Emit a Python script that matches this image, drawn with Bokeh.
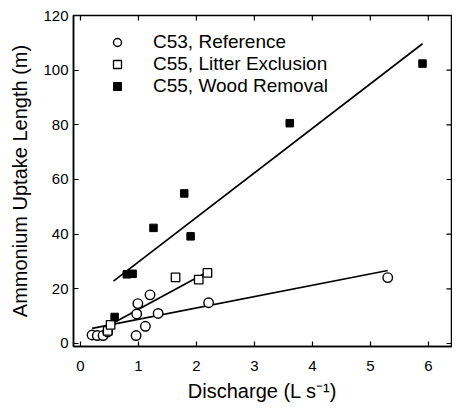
from bokeh.plotting import figure
from bokeh.models import Legend, LegendItem, FixedTicker, Range1d
from bokeh.embed import file_html
from bokeh.resources import INLINE
import numpy as np

# Data
ref_x = [0.20, 0.29, 0.39, 0.47, 0.96, 0.97, 0.99, 1.12, 1.20, 1.34, 2.21, 5.30]
ref_y = [3.1, 2.9, 2.9, 4.2, 2.9, 10.8, 14.6, 6.3, 17.8, 11.0, 14.9, 24.1]
lit_x = [0.47, 0.52, 1.64, 2.04, 2.19]
lit_y = [4.6, 6.8, 24.2, 23.4, 25.8]
wood_x = [0.59, 0.80, 0.90, 1.26, 1.79, 1.90, 3.61, 5.90]
wood_y = [9.7, 25.3, 25.5, 42.3, 54.9, 39.2, 80.6, 102.4]

# regression fits (slope, intercept)
ref_fit = (4.15, 4.7)
lit_fit = (11.5, 1.0)
wood_fit = (16.3, 13.5)
ref_line_x = [0.20, 5.30]
lit_line_x = [0.51, 2.14]
wood_line_x = [0.57, 5.90]

x_ticks = [0, 1, 2, 3, 4, 5, 6]
y_ticks = [0, 20, 40, 60, 80, 100, 120]

FONT = "Liberation Sans"
X0, X1 = -0.12, 6.40
Y0, Y1 = -1.1, 120

p = figure(width=452, height=406, output_backend="svg", toolbar_location=None,
           x_range=Range1d(X0, X1), y_range=Range1d(Y0, Y1),
           min_border_left=73, min_border_top=15, min_border_bottom=60, min_border_right=1)
p.xgrid.visible = False
p.ygrid.visible = False
p.outline_line_color = "black"
p.outline_line_width = 1.5

xa = p.below[0]
ya = p.left[0]
xa.ticker = FixedTicker(ticks=x_ticks)
ya.ticker = FixedTicker(ticks=y_ticks)
for ax in (xa, ya):
    ax.minor_tick_line_color = None
    ax.major_tick_in = 5
    ax.major_tick_out = 0
    ax.major_tick_line_color = "black"
    ax.major_tick_line_width = 1.2
    ax.axis_line_color = "black"
    ax.axis_line_width = 1.5
    ax.major_label_text_font = FONT
    ax.major_label_text_font_size = "15px"
    ax.major_label_text_color = "black"
    ax.axis_label_text_font = FONT
    ax.axis_label_text_font_size = "20px"
    ax.axis_label_text_font_style = "normal"
    ax.axis_label_text_color = "black"

xa.axis_label = "Discharge (L s⁻¹)"
ya.axis_label = "Ammonium Uptake Length (m)"
xa.major_label_standoff = 14
xa.axis_label_standoff = 6
ya.major_label_standoff = 5
ya.axis_label_standoff = 9

# mirrored inward ticks on top and right spines (clipped to the frame)
p.scatter(x_ticks, [Y1] * len(x_ticks), marker="dash", angle=np.pi / 2, size=10,
          line_color="black", line_width=1.2)
p.scatter([X1] * len(y_ticks), y_ticks, marker="dash", size=10,
          line_color="black", line_width=1.2)

for lx, fit in ((ref_line_x, ref_fit), (lit_line_x, lit_fit), (wood_line_x, wood_fit)):
    xs = np.array(lx)
    p.line(xs, fit[0] * xs + fit[1], line_color="black", line_width=1.7)

r_ref = p.scatter(ref_x, ref_y, marker="circle", size=9.5, fill_color="white",
                  line_color="black", line_width=1.4)
r_lit = p.scatter(lit_x, lit_y, marker="square", size=8.5, fill_color="white",
                  line_color="black", line_width=1.3)
r_wood = p.scatter(wood_x, wood_y, marker="square", size=7.5, fill_color="black",
                   line_color="black", line_width=1)

legend = Legend(items=[
    LegendItem(label="C53, Reference", renderers=[r_ref]),
    LegendItem(label="C55, Litter Exclusion", renderers=[r_lit]),
    LegendItem(label="C55, Wood Removal", renderers=[r_wood]),
], location=(34, 249), orientation="vertical")
legend.background_fill_alpha = 0
legend.border_line_color = None
legend.padding = 0
legend.margin = 0
legend.spacing = 0
legend.glyph_width = 20
legend.glyph_height = 22
legend.label_height = 22
legend.label_standoff = 26
legend.label_text_font = FONT
legend.label_text_font_size = "19px"
legend.label_text_color = "black"
p.add_layout(legend, "center")

open("out.html", "w").write(file_html(p, INLINE))
